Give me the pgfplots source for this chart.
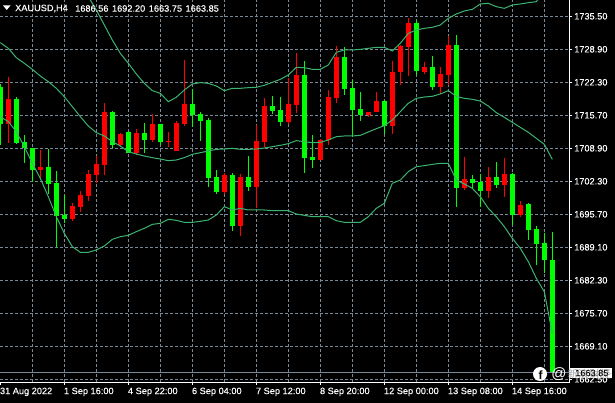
\documentclass[border=0pt]{standalone}
\usepackage{pgfplots}
\usepackage{pgfplotstable}
\usepackage{fontspec}
\pgfplotsset{compat=1.18}
\setmainfont{Liberation Sans}
\newfontfamily\chartfont[FakeBold=0.25]{Liberation Sans}
\newfontfamily\cjk{Noto Sans CJK SC}
\definecolor{upc}{HTML}{00FF00}
\definecolor{downc}{HTML}{FF0000}
\definecolor{gridc}{HTML}{778899}
\definecolor{bandc}{HTML}{3CB371}
\newcommand{\labelfont}{\chartfont\fontsize{9.2}{11}\selectfont}

% candles: k high bodytop bodybottom low (XAUUSD H4)
\pgfplotstableread{
k hi top bot lo
0 1721.88 1721.21 1713.83 1709.60
2 1719.20 1718.86 1709.94 1709.81
3 1711.62 1710.21 1708.93 1705.92
4 1708.93 1708.93 1704.57 1702.23
6 1708.80 1705.18 1701.76 1699.75
7 1704.37 1701.96 1695.32 1689.01
8 1699.54 1695.52 1694.72 1693.84
14 1716.45 1716.24 1709.60 1708.93
16 1712.49 1712.22 1707.99 1707.93
18 1714.03 1712.02 1710.61 1707.99
20 1713.83 1713.83 1710.21 1709.60
24 1720.87 1717.85 1715.57 1713.23
25 1716.24 1715.84 1714.43 1710.41
26 1714.97 1714.63 1702.96 1701.22
27 1704.57 1703.17 1700.15 1699.75
29 1703.97 1703.57 1693.31 1692.30
31 1707.39 1703.17 1701.15 1700.35
34 1719.46 1717.45 1716.45 1715.84
35 1719.26 1716.65 1714.23 1713.43
38 1726.51 1723.69 1706.99 1703.97
39 1711.62 1707.19 1706.59 1704.98
43 1729.32 1727.31 1720.87 1719.67
44 1722.68 1721.07 1716.65 1711.21
45 1720.27 1716.85 1715.57 1714.43
48 1718.66 1718.46 1713.43 1711.82
52 1734.76 1734.15 1724.49 1723.69
54 1727.51 1725.30 1721.27 1720.67
57 1731.74 1729.73 1700.95 1697.13
59 1703.57 1702.76 1701.96 1700.75
60 1703.77 1702.16 1700.35 1697.13
62 1706.18 1703.17 1701.56 1700.95
64 1703.97 1703.77 1695.52 1693.51
66 1697.93 1697.73 1692.50 1690.49
67 1693.31 1692.70 1689.68 1685.46
68 1691.90 1689.89 1686.47 1683.78
69 1692.20 1686.56 1663.85 1663.75
}\greencandles
\pgfplotstableread{
k hi top bot lo
1 1723.22 1718.86 1713.83 1709.94
5 1708.60 1705.11 1704.57 1702.56
9 1697.87 1697.33 1694.72 1694.31
10 1700.35 1699.54 1697.13 1696.12
11 1704.57 1703.77 1699.34 1698.34
12 1707.46 1705.78 1703.57 1701.96
13 1718.06 1716.24 1705.58 1703.57
15 1712.02 1711.82 1709.54 1709.40
17 1712.82 1712.02 1707.99 1707.59
19 1715.84 1713.83 1710.61 1710.21
21 1712.22 1710.41 1710.21 1709.20
22 1714.43 1714.03 1708.40 1708.40
23 1726.71 1717.85 1713.83 1713.43
28 1703.97 1703.57 1700.15 1699.75
30 1703.77 1703.17 1693.31 1691.29
32 1713.63 1710.41 1701.15 1696.93
33 1719.06 1717.45 1710.21 1709.20
36 1723.09 1717.85 1714.23 1713.83
37 1728.12 1723.69 1717.65 1715.98
40 1710.81 1710.61 1706.59 1706.59
41 1720.67 1719.26 1710.61 1709.60
42 1729.52 1727.31 1719.06 1718.06
46 1716.24 1716.24 1715.64 1715.24
47 1720.27 1718.46 1716.24 1716.24
49 1726.51 1724.29 1713.43 1711.82
50 1729.73 1729.52 1724.29 1721.68
51 1735.16 1734.15 1729.32 1723.49
53 1726.31 1725.30 1724.29 1723.89
55 1725.30 1723.89 1721.27 1719.87
56 1731.60 1729.73 1723.69 1721.68
58 1707.19 1702.76 1700.95 1700.55
61 1705.18 1703.17 1700.35 1698.94
63 1706.99 1703.77 1701.56 1699.14
65 1698.34 1697.53 1695.52 1695.12
}\redcandles

% bands
\pgfplotstableread{
k upper middle lower
0 nan 1730.20 1715.31
1 nan 1729.05 1714.30
2 nan 1727.18 1712.29
3 nan 1726.04 1709.27
4 nan 1724.83 1705.92
5 nan 1723.49 1702.90
6 nan 1722.35 1699.21
7 nan 1721.01 1695.18
8 nan 1719.33 1691.83
9 nan 1717.32 1689.15
10 1742.13 1715.31 1688.01
11 1739.45 1713.43 1688.01
12 1736.77 1712.09 1688.48
13 1733.75 1711.42 1689.28
14 1730.73 1710.28 1690.62
15 1728.05 1709.40 1691.16
16 1726.04 1708.26 1691.43
17 1723.89 1707.79 1692.17
18 1722.01 1707.39 1692.84
19 1720.54 1707.06 1693.64
20 1720.00 1706.79 1693.84
21 1718.32 1706.45 1694.65
22 1719.20 1706.59 1694.45
23 1720.67 1707.06 1694.04
24 1721.88 1707.73 1694.04
25 1722.15 1708.06 1694.25
26 1722.01 1708.40 1694.51
27 1721.48 1708.73 1695.52
28 1720.54 1708.80 1697.20
29 1721.01 1708.93 1696.53
30 1721.01 1708.73 1696.86
31 1721.14 1708.73 1696.53
32 1721.21 1708.80 1696.53
33 1721.61 1709.00 1696.53
34 1722.21 1709.27 1696.39
35 1722.82 1709.54 1696.39
36 1723.69 1709.87 1696.39
37 1725.23 1710.48 1695.72
38 1725.16 1710.28 1695.45
39 1724.83 1710.07 1695.18
40 1724.83 1710.14 1695.18
41 1725.70 1710.61 1695.18
42 1728.25 1711.28 1694.38
43 1728.72 1711.42 1694.04
44 1728.72 1711.42 1694.04
45 1728.85 1711.55 1694.04
46 1729.05 1712.22 1695.18
47 1729.26 1712.89 1696.86
48 1729.26 1713.49 1697.87
49 1728.52 1714.63 1701.89
50 1730.06 1716.31 1702.56
51 1732.07 1717.99 1704.24
52 1732.74 1718.99 1705.24
53 1733.08 1719.26 1705.45
54 1733.28 1719.40 1705.71
55 1733.75 1719.87 1705.92
56 1735.09 1720.54 1705.92
57 1735.96 1719.40 1702.56
58 1736.57 1718.99 1701.76
59 1736.90 1718.79 1700.89
60 1737.98 1718.46 1699.21
61 1738.11 1717.45 1696.86
62 1737.44 1716.11 1695.18
63 1737.10 1715.17 1693.17
64 1737.77 1714.17 1690.82
65 1737.98 1713.16 1688.81
66 1738.24 1712.15 1686.13
67 1738.44 1710.95 1682.78
68 1740.79 1709.74 1680.09
69 1745.00 1706.72 1671.71
}\bands

\begin{document}
\begin{tikzpicture}
\fill[black] (0pt,-20.5pt) rectangle (615pt,382.5pt);
\path[use as bounding box] (0pt,-20.5pt) rectangle (615pt,382.5pt);
\begin{axis}[
  scale only axis, width=569.5pt, height=382.5pt,
  at={(0pt,0pt)}, anchor=south west,
  xmin=-0.04, xmax=71.15, ymin=1661.82, ymax=1738.78,
  axis x line=bottom, axis y line=right,
  axis line style={-, white, line width=1pt},
  tick align=outside, major tick length=2.5pt, minor tick length=0pt,
  every tick/.style={white, line width=0.8pt},
  xtick={0,8,...,64},
  minor xtick={4,8,...,68},
  xticklabels={31 Aug 2022,1 Sep 16:00,4 Sep 22:00,6 Sep 04:00,7 Sep 12:00,8 Sep 20:00,12 Sep 00:00,13 Sep 08:00,14 Sep 16:00},
  ytick={1735.50,1728.86,1722.22,1715.58,1708.94,1702.30,1695.66,1689.02,1682.38,1675.74,1669.10,1662.46},
  yticklabels={1735.50,1728.90,1722.30,1715.70,1708.90,1702.30,1695.70,1689.10,1682.30,1675.70,1669.10,1662.50},
  xticklabel style={anchor=north west, inner sep=0pt, xshift=-0.5pt, yshift=-2.5pt, text=white, font=\labelfont},
  yticklabel style={anchor=west, inner sep=0pt, xshift=2pt, text=white, font=\labelfont},
  xmajorgrids=false, xminorgrids=true, ymajorgrids=true,
  grid style={gridc, line width=1pt, dash pattern=on 3pt off 2pt},
  minor grid style={gridc, line width=1pt, dash pattern=on 3pt off 2pt},
]
% wicks
\addplot[draw=none, mark=none, forget plot, error bars/.cd, y dir=both, y explicit, error mark=none,
  error bar style={line width=1pt, upc}]
  table[x=k, y=top, y error plus expr=\thisrow{hi}-\thisrow{top}, y error minus expr=\thisrow{top}-\thisrow{lo}] {\greencandles};
\addplot[draw=none, mark=none, forget plot, error bars/.cd, y dir=both, y explicit, error mark=none,
  error bar style={line width=1pt, downc}]
  table[x=k, y=top, y error plus expr=\thisrow{hi}-\thisrow{top}, y error minus expr=\thisrow{top}-\thisrow{lo}] {\redcandles};
% bodies
\addplot[draw=none, mark=none, forget plot, error bars/.cd, y dir=minus, y explicit, error mark=none,
  error bar style={line width=5pt, upc}]
  table[x=k, y=top, y error minus expr=\thisrow{top}-\thisrow{bot}] {\greencandles};
\addplot[draw=none, mark=none, forget plot, error bars/.cd, y dir=minus, y explicit, error mark=none,
  error bar style={line width=5pt, downc}]
  table[x=k, y=top, y error minus expr=\thisrow{top}-\thisrow{bot}] {\redcandles};
% bollinger bands
\addplot[bandc, line width=1pt, mark=none] table[x=k, y=upper] {\bands};
\addplot[bandc, line width=1pt, mark=none] table[x=k, y=middle] {\bands};
\addplot[bandc, line width=1pt, mark=none] table[x=k, y=lower] {\bands};
% bid line
\addplot[gridc, line width=1pt, mark=none] coordinates {(-0.04,1663.85) (71.15,1663.85)};
\end{axis}
% header
\fill[white] (3pt,377pt) -- (10.5pt,377pt) -- (6.75pt,372.5pt) -- cycle;
\node[anchor=west, inner sep=0pt, text=white, font=\labelfont] at (15pt,374pt) {XAUUSD,H4};
\node[anchor=west, inner sep=0pt, text=white, font=\labelfont] at (75pt,374pt) {1686.56\hspace{1pt} 1692.20\hspace{1pt} 1663.75\hspace{1pt} 1663.85};
% price box and watermark
\fill[white] (569pt,4.5pt) rectangle (612pt,14.5pt);
\node[anchor=west, inner sep=0pt, text=black, font=\labelfont] at (575pt,9.5pt) {1663.85};
\fill[white] (540pt,8.5pt) circle (7pt);
\node[text=black, inner sep=0pt, font=\bfseries\fontsize{12}{12}\selectfont] at (540.5pt,7.5pt) {f};
\node[text=white, inner sep=0pt, font=\fontsize{15}{15}\selectfont] at (559pt,8.5pt) {@};
\node[anchor=west, inner sep=0pt, text=gray, opacity=0.7, font=\cjk\fontsize{11}{11}\selectfont] at (567pt,8.5pt) {新浪财经};
\end{tikzpicture}
\end{document}
